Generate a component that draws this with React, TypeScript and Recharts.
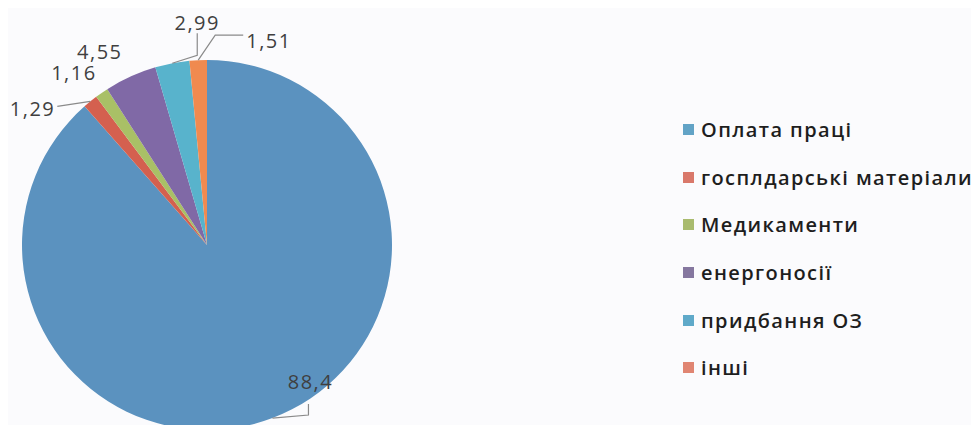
import { PieChart, Pie, Cell, Legend } from "recharts";

const categories = [
    "Оплата праці",
    "госплдарські матеріали",
    "Медикаменти",
    "енергоносії",
    "придбання ОЗ",
    "інші",
];
const shares = [88.4, 1.29, 1.16, 4.55, 2.99, 1.51];
const valueLabels = ["88,4", "1,29", "1,16", "4,55", "2,99", "1,51"];

const sliceColors = ["#5b92bf", "#d4604f", "#a9c066", "#8069a6", "#58b3cc", "#f08a4f"];
const legendColors = ["#62a3c6", "#d9786a", "#a9bb6e", "#85779f", "#5fa9c9", "#e08572"];

const data = categories.map((name, i) => ({ name, value: shares[i] }));

// label placement relative to the slice's outer edge point
const labelPlacement = [
    { dx: 38, dy: -37, anchor: "middle", line: [[36, -3], [36, -14]] },
    { dx: -35, dy: 7, anchor: "end", line: [[-33, 5]] },
    { dx: -5, dy: -20, anchor: "end", line: [] },
    { dx: -8, dy: -25, anchor: "end", line: [] },
    { dx: 25, dy: -41, anchor: "middle", line: [[25, -8], [25, -30]] },
    { dx: 48, dy: -20, anchor: "start", line: [[17, -25], [45, -25]] },
];

const RAD = Math.PI / 180;

const renderLabel = (props: any) => {
    const { cx, cy, midAngle, outerRadius, index } = props;
    const ax = cx + outerRadius * Math.cos(-midAngle * RAD);
    const ay = cy + outerRadius * Math.sin(-midAngle * RAD);
    const p = labelPlacement[index];
    const pts = [[ax, ay], ...p.line.map(([x, y]) => [ax + x, ay + y])];
    return (
        <g key={"lbl" + index}>
            {p.line.length > 0 && (
                <polyline
                    points={pts.map((q) => q.join(",")).join(" ")}
                    fill="none"
                    stroke="#8a8a8a"
                    strokeWidth={1.2}
                />
            )}
            <text
                x={ax + p.dx}
                y={ay + p.dy}
                textAnchor={p.anchor as any}
                dominantBaseline="central"
                fill="#3f3f3f"
                fontSize={20}
                letterSpacing={1.5}
                fontFamily="'Open Sans', sans-serif"
            >
                {valueLabels[index]}
            </text>
        </g>
    );
};

const renderLegend = () => (
    <div
        style={{
            fontFamily: "'Open Sans', sans-serif",
            fontSize: 20,
            fontWeight: 600,
            color: "#1e1e1e",
        }}
    >
        {categories.map((c, i) => (
            <div key={c} style={{ display: "flex", alignItems: "center", height: 47.6 }}>
                <span
                    style={{
                        display: "inline-block",
                        width: 11,
                        height: 11,
                        background: legendColors[i],
                        marginRight: 7,
                    }}
                />
                <span style={{ letterSpacing: 1.4, whiteSpace: "nowrap" }}>{c}</span>
            </div>
        ))}
    </div>
);

const App = () => {
    return (
        <div style={{ width: 979, height: 425, background: "#fbfbfd" }}>
            <PieChart
                width={979}
                height={425}
                margin={{ top: 0, right: 0, bottom: 0, left: 0 }}
                style={{ overflow: "visible" }}
            >
                <Pie
                    data={data}
                    dataKey="value"
                    cx={199}
                    cy={237}
                    outerRadius={185}
                    startAngle={90}
                    endAngle={-270}
                    stroke="none"
                    label={renderLabel}
                    labelLine={false}
                    isAnimationActive={false}
                >
                    {data.map((d, i) => (
                        <Cell key={d.name} fill={sliceColors[i]} />
                    ))}
                </Pie>
                <Legend
                    layout="vertical"
                    align="right"
                    verticalAlign="top"
                    content={renderLegend}
                    wrapperStyle={{ left: 675, top: 98, width: 310 }}
                />
            </PieChart>
        </div>
    );
};

export default App;
